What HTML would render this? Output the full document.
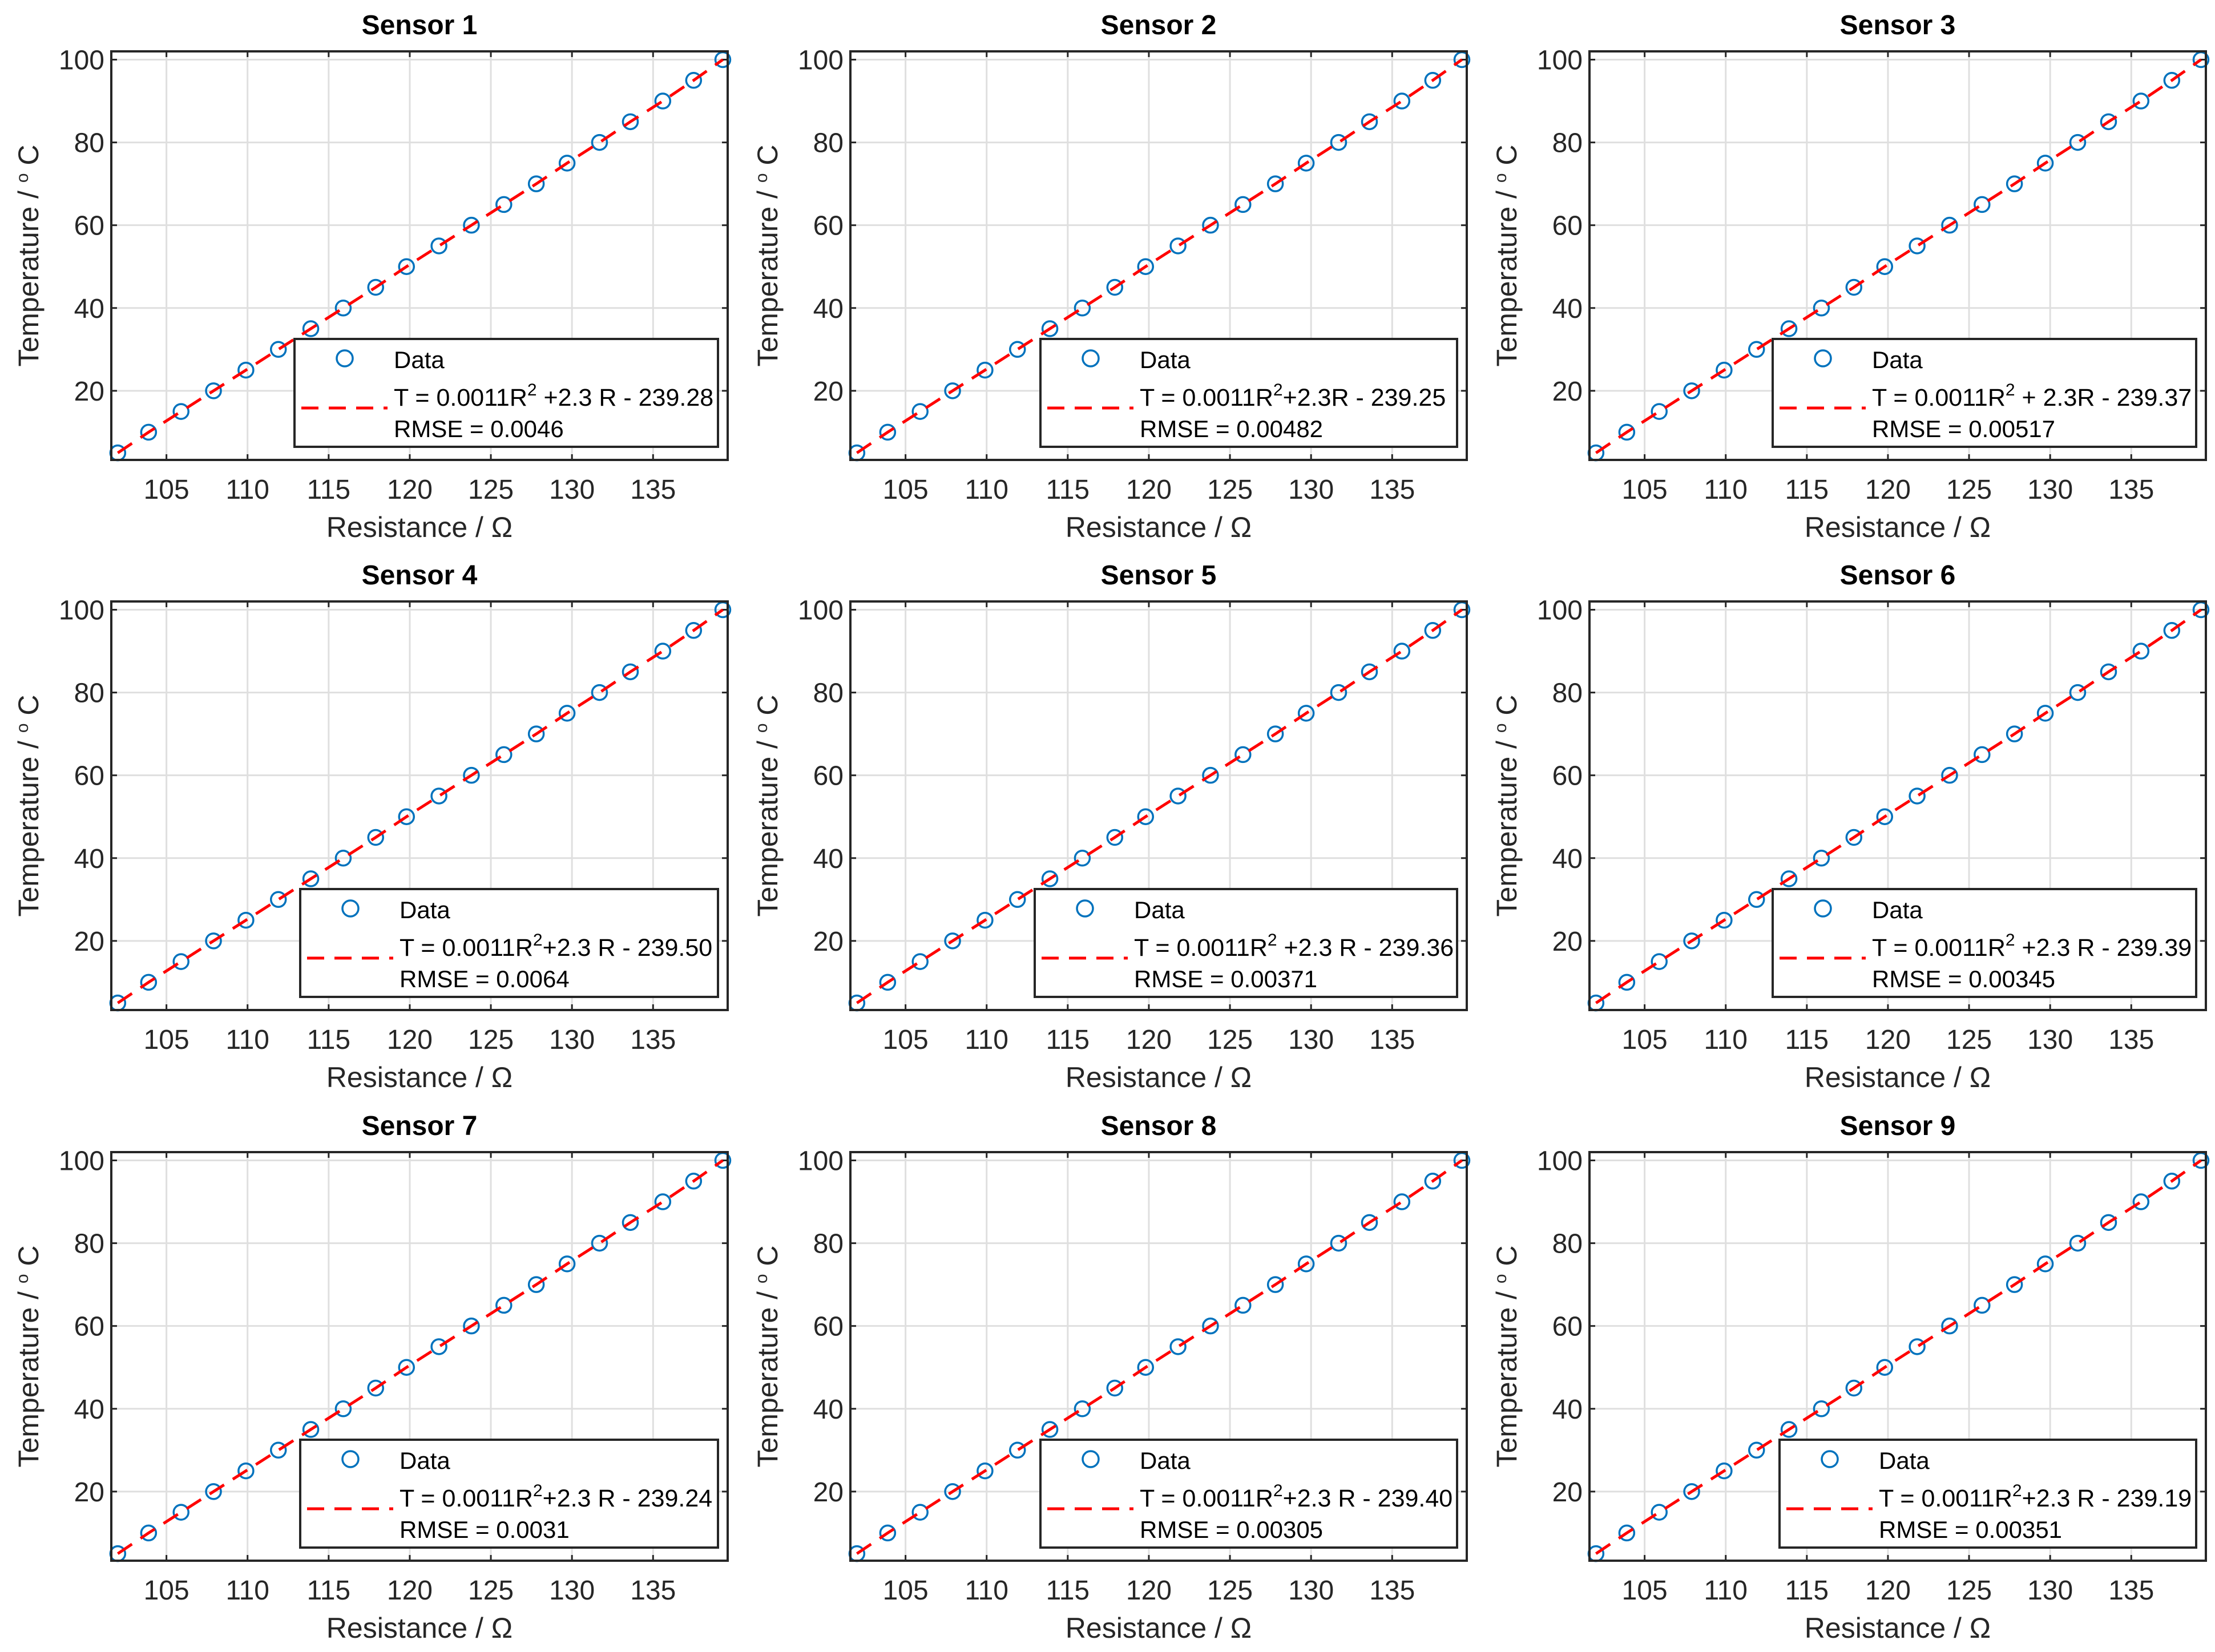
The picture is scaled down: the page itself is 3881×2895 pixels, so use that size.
<!DOCTYPE html>
<html><head><meta charset="utf-8"><style>
html,body{margin:0;padding:0;background:#fff}
svg{display:block;font-family:"Liberation Sans",Arial,sans-serif}
</style></head><body>
<svg id="fig" width="3881" height="2895" viewBox="0 0 3881 2895" xmlns="http://www.w3.org/2000/svg"></svg>
<script>
const temperatures = [5,10,15,20,25,30,35,40,45,50,55,60,65,70,75,80,85,90,95,100];
const resistances = [102.0,103.9,105.9,107.9,109.9,111.9,113.9,115.9,117.9,119.8,121.8,123.8,125.8,127.8,129.7,131.7,133.6,135.6,137.5,139.3];
const sensorTitles = ["Sensor 1","Sensor 2","Sensor 3","Sensor 4","Sensor 5","Sensor 6","Sensor 7","Sensor 8","Sensor 9"];
const eqPrefix = ["T = 0.0011R","T = 0.0011R","T = 0.0011R","T = 0.0011R","T = 0.0011R","T = 0.0011R","T = 0.0011R","T = 0.0011R","T = 0.0011R"];
const eqSuffix = [" +2.3 R - 239.28","+2.3R - 239.25"," + 2.3R - 239.37","+2.3 R - 239.50"," +2.3 R - 239.36"," +2.3 R - 239.39","+2.3 R - 239.24","+2.3 R - 239.40","+2.3 R - 239.19"];
const rmseValues = ["0.0046","0.00482","0.00517","0.0064","0.00371","0.00345","0.0031","0.00305","0.00351"];
const legendWidths = [742,730,742,732,740,742,732,730,730];
const xTicks = [105,110,115,120,125,130,135];
const yTicks = [20,40,60,80,100];
const xDomain = [101.6,139.6];
const yDomain = [3.3,102];

const NS = "http://www.w3.org/2000/svg";
const fig = document.getElementById('fig');
function mk(tag, attrs, parent){const e=document.createElementNS(NS,tag);for(const k in attrs)e.setAttribute(k,attrs[k]);parent.appendChild(e);return e;}

const colLeft=[195,1490,2785], rowTop=[90,1054,2019], W=1080, H=716;

for(let i=0;i<9;i++){
  const L=colLeft[i%3], T=rowTop[Math.floor(i/3)];
  const sx=v=>L+(v-xDomain[0])/(xDomain[1]-xDomain[0])*W;
  const sy=v=>T+H-(v-yDomain[0])/(yDomain[1]-yDomain[0])*H;
  const g=mk('g',{},fig);
  
  
  mk('rect',{x:L,y:T,width:W,height:H,fill:'#fff'},g);
  xTicks.forEach(t=>{
    const ln=mk('line',{x1:sx(t),x2:sx(t),y1:T,y2:T+H,stroke:'#dfdfdf','stroke-width':3},g);
    
    
    mk('line',{x1:sx(t),x2:sx(t),y1:T+H,y2:T+H-10,stroke:'#262626','stroke-width':3},g);
    mk('line',{x1:sx(t),x2:sx(t),y1:T,y2:T+10,stroke:'#262626','stroke-width':3},g);
    const tx=mk('text',{x:sx(t),y:T+H+68,'font-size':48,fill:'#262626','text-anchor':'middle'},g);
    tx.textContent=t;
    
    
  });
  yTicks.forEach(t=>{
    const ln=mk('line',{x1:L,x2:L+W,y1:sy(t),y2:sy(t),stroke:'#dfdfdf','stroke-width':3},g);
    
    
    mk('line',{x1:L,x2:L+10,y1:sy(t),y2:sy(t),stroke:'#262626','stroke-width':3},g);
    mk('line',{x1:L+W,x2:L+W-10,y1:sy(t),y2:sy(t),stroke:'#262626','stroke-width':3},g);
    const tx=mk('text',{x:L-12,y:sy(t)+17,'font-size':48,fill:'#262626','text-anchor':'end'},g);
    tx.textContent=t;
    
    
  });
  temperatures.forEach((tv,k)=>{
    const c=mk('circle',{cx:sx(resistances[k]),cy:sy(tv),r:13,fill:'none',stroke:'#0072BD','stroke-width':3.5},g);
    
    
  });
  const pts=temperatures.map((tv,k)=>sx(resistances[k])+','+sy(tv)).join(' ');
  const fl=mk('polyline',{points:pts,fill:'none',stroke:'#ff0000','stroke-width':5,'stroke-dasharray':'30 18'},g);
  
  
  const box=mk('rect',{x:L,y:T,width:W,height:H,fill:'none',stroke:'#262626','stroke-width':4},g);
  
  
  const ti=mk('text',{x:L+W/2,y:T-30,'font-size':48,'font-weight':'bold',fill:'#000','text-anchor':'middle'},g);
  ti.textContent=sensorTitles[i];
  
  
  const xl=mk('text',{x:L+W/2,y:T+H+135,'font-size':50,fill:'#262626','text-anchor':'middle'},g);
  xl.textContent='Resistance / Ω';
  
  
  const yl=mk('text',{x:0,y:0,'font-size':50,fill:'#262626','text-anchor':'middle',transform:`translate(${L-128},${T+H/2}) rotate(-90)`},g);
  yl.innerHTML='Temperature / <tspan dy="-18" font-size="30">o</tspan><tspan dy="18"> C</tspan>';
  
  
  const lw=legendWidths[i], lx=L+W-17-lw, ly=T+504;
  const lg=mk('g',{},g);
  
  
  mk('rect',{x:lx,y:ly,width:lw,height:189,fill:'#fff',stroke:'#262626','stroke-width':4},lg);
  mk('circle',{cx:lx+88,cy:ly+34,r:14,fill:'none',stroke:'#0072BD','stroke-width':3.5},lg);
  const t1=mk('text',{x:lx+174,y:ly+51,'font-size':42,fill:'#000'},lg);
  t1.textContent='Data';
  
  
  mk('line',{x1:lx+12,x2:lx+163,y1:ly+121,y2:ly+121,stroke:'#ff0000','stroke-width':5,'stroke-dasharray':'30 18'},lg);
  const t2=mk('text',{x:lx+174,y:ly+117,'font-size':43,fill:'#000'},lg);
  t2.innerHTML=eqPrefix[i]+'<tspan dy="-18" font-size="30">2</tspan><tspan dy="18">'+eqSuffix[i]+'</tspan>';
  
  
  const t3=mk('text',{x:lx+174,y:ly+172,'font-size':42,fill:'#000'},lg);
  t3.textContent='RMSE = '+rmseValues[i];
  
  
}
</script>
</body></html>
